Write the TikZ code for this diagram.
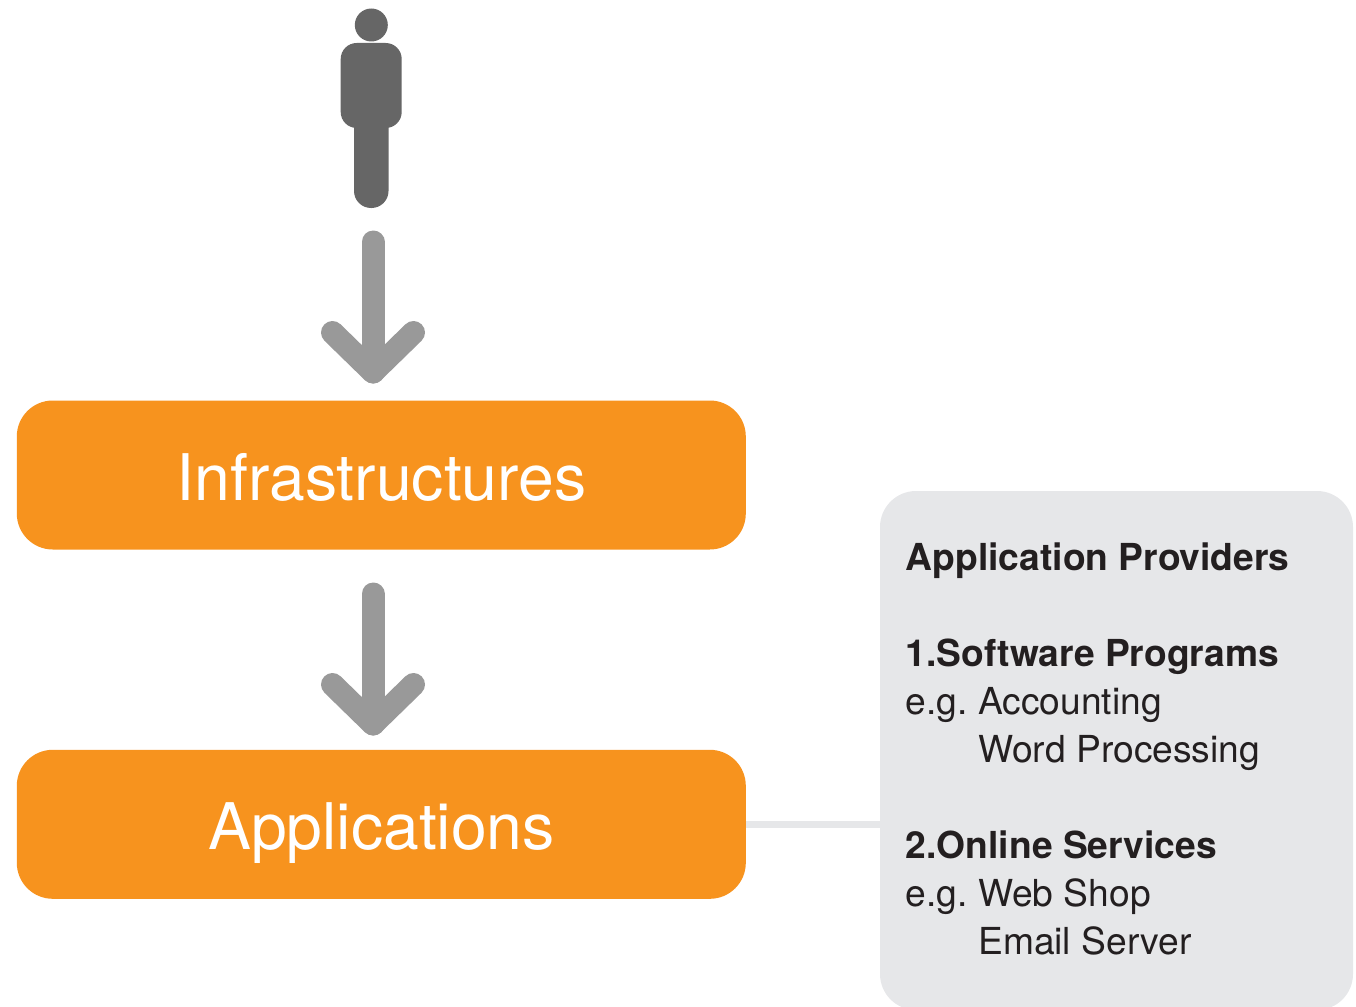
\documentclass[tikz,border=0pt]{standalone}
\usepackage{fontspec}
\setmainfont{TeX Gyre Heros}
\definecolor{boxorange}{HTML}{F7931E}
\definecolor{panelgrey}{HTML}{E6E7E9}
\definecolor{arrowgrey}{HTML}{999999}
\definecolor{persongrey}{HTML}{666666}
\definecolor{inkdark}{HTML}{231F20}
\tikzset{x=1pt,y=-1pt,
 orangebox/.style={fill=boxorange,rounded corners=36pt,minimum width=729pt,minimum height=149pt,inner sep=0pt},
 boxlabel/.style={anchor=base,inner sep=0pt,text=white,font=\fontsize{64.3}{64.3}\selectfont},
 gline/.style={draw=arrowgrey,line width=23pt,line cap=round,line join=round},
 ptext/.style={anchor=base west,inner sep=0pt,text=inkdark,font=\fontsize{37.2}{37.2}\selectfont},
 ptextb/.style={ptext,font=\fontsize{37.2}{37.2}\selectfont\bfseries}}
\begin{document}
\begin{tikzpicture}
\useasboundingbox (0,0) rectangle (1356,1006);
\begin{scope}
\clip (0,0) rectangle (1356,1006);
\fill[panelgrey,rounded corners=36pt] (880,491) rectangle (1353,1010);
\end{scope}
\coordinate (panelw) at (880,824.3);
\node[orangebox] (infra) at (381.3,475) {};
\node[orangebox] (apps) at (381.3,824.3) {};
\node[boxlabel] (infral) at (381.5,500) {Infrastructures};
\node[boxlabel] (appsl) at (381.5,849) {Applications};
\draw[panelgrey,line width=7pt] (apps.east |- panelw) -- (panelw);
% person
\fill[persongrey] (371.3,25) circle (16.5);
\fill[persongrey,rounded corners=16pt] (340.7,43) rectangle (401.7,128);
\fill[persongrey,rounded corners=17pt] (354,110) rectangle (388.5,208);
% arrows
\coordinate (a1t) at (373,242);
\coordinate (a1b) at (373,372);
\draw[gline] (a1t) -- (a1b);
\draw[gline] (332.5,332.5) -- (a1b) -- (413.5,332.5);
\coordinate (a2t) at (373,594);
\coordinate (a2b) at (373,724);
\draw[gline] (a2t) -- (a2b);
\draw[gline] (332.5,684.5) -- (a2b) -- (413.5,684.5);
% text
\node[ptextb] (t1) at (905.7,570) {Application Providers};
\node[ptextb] (t2) at (905.7,666) {1.Software Programs};
\node[ptext] (t3) at (905.7,714) {e.g.};
\node[ptext] (t4) at (978,714) {Accounting};
\node[ptext] (t5) at (978,762) {Word Processing};
\node[ptextb] (t6) at (905.7,858) {2.Online Services};
\node[ptext] (t7) at (905.7,906) {e.g.};
\node[ptext] (t8) at (978,906) {Web Shop};
\node[ptext] (t9) at (978,954) {Email Server};
\end{tikzpicture}
\end{document}
